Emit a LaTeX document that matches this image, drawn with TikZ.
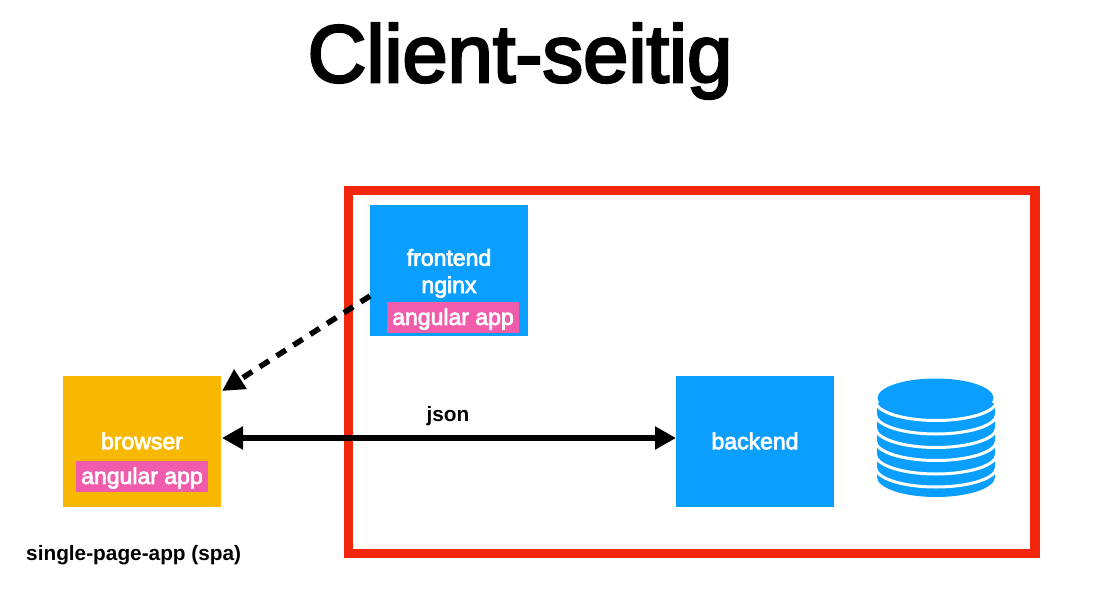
\documentclass[tikz,border=0pt]{standalone}
\usepackage{fontspec}
\setmainfont{Liberation Sans}
\newfontfamily\medfont[FakeBold=3.2]{Liberation Sans}
\newfontfamily\titlefont[FakeBold=3.2]{Liberation Sans}
\usetikzlibrary{arrows.meta,calc}
\definecolor{boxblue}{HTML}{0A9FFF}
\definecolor{boxorange}{HTML}{F9B800}
\definecolor{boxpink}{HTML}{F15BAB}
\definecolor{framered}{HTML}{F2260A}
\tikzset{
  box/.style={draw=none,minimum width=158pt,minimum height=131pt,inner sep=0pt,outer sep=0pt},
  pinkbox/.style={fill=boxpink,minimum width=132pt,minimum height=31pt,inner sep=0pt},
  boxlabel/.style={text=white,inner sep=0pt,font=\medfont\fontsize{23}{27}\selectfont},
  plainlabel/.style={text=black,inner sep=0pt,font=\bfseries\fontsize{20.8}{24}\selectfont},
  conn/.style={line width=5.5pt,black},
  sep/.style={draw=white,line width=3pt}
}
\begin{document}
\begin{tikzpicture}[x=1pt,y=-1pt]
\useasboundingbox (0,0) rectangle (1112,610);
\node[text=black,inner sep=0pt,font=\titlefont\fontsize{81.3}{90}\selectfont] (title) at (520,61) {Client-seitig};
\draw[framered,line width=9.5pt] (348.5,190.5) rectangle (1035,553.5);
\node[box,fill=boxblue,anchor=north west] (frontend) at (370,205) {};
\node[box,fill=boxorange,anchor=north west] (browser) at (63,376) {};
\node[box,fill=boxblue,anchor=north west] (backend) at (676,376) {};
\node[boxlabel] (fronttext) at (449,257.5) {frontend};
\node[boxlabel] (nginxtext) at (449,287) {nginx};
\node[pinkbox] (frontapp) at (453,317.5) {};
\node[boxlabel] (frontapptext) at (453,319) {angular app};
\node[boxlabel] (browsertext) at (142,441) {browser};
\node[pinkbox] (browserapp) at (142,476.5) {};
\node[boxlabel] (browserapptext) at (142,478) {angular app};
\node[boxlabel] (backendtext) at (755,441) {backend};
\node[plainlabel] (json) at (448,416) {json};
\node[plainlabel,anchor=west] (spa) at (26,555) {single-page-app (spa)};
% database
\fill[boxblue] (877,403) -- (995,403) -- (995,477) arc[start angle=0,end angle=180,x radius=59,y radius=20] -- cycle;
\foreach \c in {401,414.5,428,441,454.5,467.5}
  \draw[sep] (875.5,\c) arc[start angle=180,end angle=0,x radius=60.5,y radius=19.5];
\fill[boxblue] (935.5,398) ellipse[x radius=58,y radius=19.5];
% connectors
\coordinate (dashstart) at ($(frontend.west)+(0,25.5)$);
\coordinate (dashend) at ($(browser.north east)+(1,15)$);
\draw[conn,dash pattern=on 11pt off 9pt,-{Triangle[length=22pt,width=22pt]}] (dashstart) -- (dashend);
\coordinate (solidleft) at ($(browser.east)+(1,-3.5)$);
\coordinate (solidright) at ($(backend.west)+(0,-3.5)$);
\draw[conn,{Triangle[length=21pt,width=22pt]}-{Triangle[length=21pt,width=22pt]}] (solidleft) -- (solidright);
\end{tikzpicture}
\end{document}
